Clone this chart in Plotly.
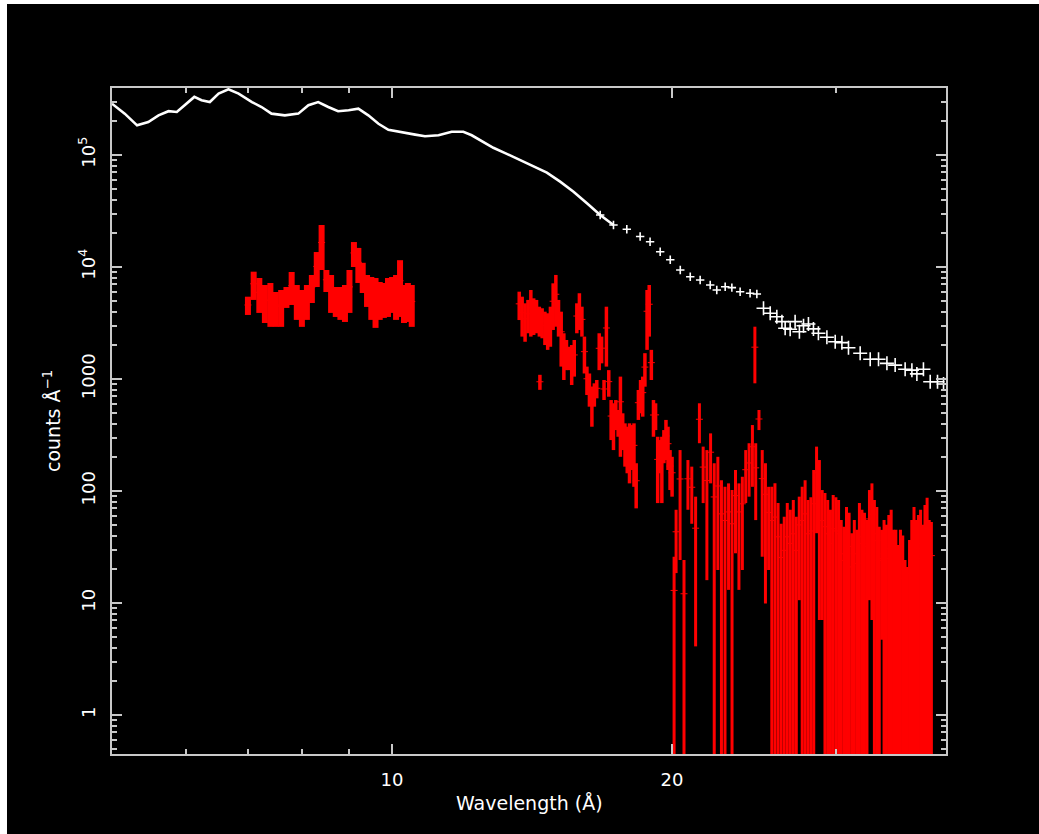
import math
import plotly.graph_objects as go

# ---------------- source spectrum (white crosses) ----------------
src_wave = [5.00, 5.16, 5.32, 5.47, 5.61, 5.75, 5.87, 5.99, 6.13, 6.24,
            6.37, 6.51, 6.67, 6.84, 7.07, 7.24, 7.42, 7.67, 7.93, 8.13,
            8.33, 8.54, 8.75, 8.98, 9.20, 9.43, 9.67, 9.91, 10.24, 10.59,
            10.85, 11.22, 11.59, 11.93, 12.18, 12.49, 12.85, 13.23, 13.67, 14.19,
            14.67, 15.16, 15.67, 16.20, 16.74, 17.30, 17.88, 18.48, 18.94, 19.42,
            19.91, 20.41, 20.92, 21.44, 21.98, 22.34, 22.81, 23.19, 23.67, 24.26,
            24.67, 25.08, 25.50, 25.92, 26.25, 26.46, 26.79, 27.12, 27.41, 27.69,
            28.03, 28.38, 28.73, 29.34, 29.95, 30.45, 30.95, 31.86, 32.66, 33.34,
            34.04, 34.74, 35.61, 36.21, 36.66, 37.26, 37.89, 38.58, 39.16]
src_counts = [2.87e5, 2.34e5, 1.84e5, 1.97e5, 2.26e5, 2.46e5, 2.42e5, 2.78e5, 3.30e5, 3.08e5,
              2.97e5, 3.53e5, 3.86e5, 3.53e5, 2.97e5, 2.68e5, 2.34e5, 2.26e5, 2.34e5, 2.78e5,
              2.97e5, 2.68e5, 2.46e5, 2.51e5, 2.59e5, 2.26e5, 1.90e5, 1.68e5, 1.61e5, 1.52e5,
              1.47e5, 1.50e5, 1.61e5, 1.61e5, 1.50e5, 1.33e5, 1.16e5, 1.04e5, 9.15e4, 7.86e4,
              6.95e4, 5.78e4, 4.70e4, 3.70e4, 2.91e4, 2.37e4, 2.17e4, 1.87e4, 1.68e4, 1.37e4,
              1.16e4, 9400, 8190, 7650, 6910, 6230, 6670, 6540, 6020, 5820,
              5740, 4280, 3860, 3600, 3250, 2840, 2780, 3250, 2640, 2990,
              3100, 2800, 2560, 2360, 2150, 2110, 1900, 1700, 1500, 1500,
              1380, 1330, 1220, 1200, 1110, 1220, 946, 946, 903]

# ---------------- extracted spectrum (red error bars) ----------------
# each bin: upper and lower end of its error bar, counts per Angstrom
# (a lower end of 0 means the bar runs off the bottom of the log axis)
band1_wave = [7.0, 7.1, 7.2, 7.3, 7.4, 7.5, 7.6, 7.7, 7.8, 7.9,
              8.0, 8.1, 8.2, 8.3, 8.4, 8.5, 8.6, 8.7, 8.8, 8.9,
              9.0, 9.1, 9.2, 9.3, 9.4, 9.5, 9.6, 9.7, 9.8, 9.9,
              10.0, 10.1, 10.2, 10.3, 10.4, 10.5]
band1_hi = [5430, 9080, 7980, 6910, 7200, 5980, 6230, 6630, 9020, 6910,
            6230, 6910, 8480, 13600, 23700, 9400, 8480, 6630, 6630, 6910,
            9400, 16700, 14800, 10900, 8480, 8140, 7980, 7350, 7200, 7980,
            8140, 8480, 11500, 6910, 7200, 6910]
band1_lo = [3730, 5080, 3890, 3160, 2920, 2920, 2920, 4310, 4580, 3370,
            2920, 3370, 4770, 6630, 9400, 5980, 3890, 3580, 3370, 3230,
            3890, 10000, 7200, 5860, 4400, 3370, 2860, 3370, 3510, 3580,
            3890, 3370, 3580, 3160, 3230, 2920]

band2_wave = [13.7, 13.8, 13.9, 14.0, 14.1, 14.2, 14.3, 14.4, 14.42, 14.5,
              14.6, 14.7, 14.8, 14.9, 15.0, 15.1, 15.2, 15.3, 15.4, 15.5,
              15.6, 15.7, 15.8, 15.9, 16.0, 16.1, 16.2, 16.3, 16.4, 16.5,
              16.6, 16.7, 16.8, 16.9, 17.0, 17.1, 17.2, 17.3, 17.4, 17.5,
              17.6, 17.7, 17.8, 17.9, 18.0, 18.1, 18.2, 18.3, 18.4, 18.5,
              18.6, 18.7, 18.8, 18.9, 19.0, 19.1, 19.2, 19.3, 19.4, 19.5,
              19.6, 19.7, 19.8, 19.9, 20.0]
band2_hi = [6020, 5430, 4740, 5080, 6230, 5250, 5080, 4420, 1090, 4280,
            3990, 3860, 4420, 7150, 8490, 5080, 3990, 2560, 2230, 1940,
            2010, 2230, 4740, 5830, 4420, 2390, 1290, 1120, 854, 915,
            980, 2560, 2390, 980, 4420, 1200, 649, 607, 649, 529,
            1050, 494, 402, 375, 402, 388, 402, 177, 798, 980,
            1050, 1700, 6230, 6910, 1820, 649, 607, 305, 285, 305,
            350, 431, 375, 232, 202]
band2_lo = [3360, 2390, 2150, 2560, 2390, 2470, 2560, 2390, 800, 2310,
            2010, 1820, 1940, 2740, 2930, 2390, 1290, 980, 1200, 1200,
            884, 1050, 2560, 2740, 2390, 1120, 720, 566, 375, 566,
            672, 1200, 1380, 649, 1290, 695, 285, 232, 350, 305,
            202, 232, 165, 144, 117, 154, 109, 70, 431, 494,
            461, 854, 1820, 2390, 980, 305, 350, 78, 144, 78,
            177, 189, 154, 102, 89]

band3_wave = [20.1, 20.2, 20.4, 20.6, 20.8, 21.0, 21.2, 21.4, 21.6, 21.8,
              22.0, 22.2, 22.4, 22.6, 22.8, 23.0, 23.2, 23.4, 23.6, 23.8,
              24.0, 24.2, 24.4, 24.55, 24.6, 24.8, 25.0, 25.2, 25.4, 25.6,
              25.8, 26.0, 26.2, 26.4, 26.6, 26.8, 27.0, 27.2, 27.4, 27.6,
              27.8, 28.0, 28.2, 28.4, 28.6, 28.8, 29.0, 29.2, 29.4, 29.6,
              29.8, 30.0, 30.2, 30.4, 30.6, 30.8, 31.0, 31.2, 31.4, 31.6,
              31.8, 32.0, 32.2, 32.4, 32.6, 32.8, 33.0, 33.2, 33.4, 33.6,
              33.8, 34.0, 34.2, 34.4, 34.6, 34.8, 35.0, 35.2, 35.4, 35.6,
              35.8, 36.0, 36.2, 36.4, 36.6, 36.8, 37.0, 37.2, 37.4, 37.6,
              37.8, 38.0]
band3_hi = [25.9, 68, 232, 24.2, 189, 165, 89, 607, 249, 232,
            327, 177, 202, 125, 109, 117, 102, 154, 117, 134,
            232, 267, 388, 2930, 267, 529, 232, 177, 109, 109,
            117, 78, 51, 59, 78, 68, 83, 59, 89, 109,
            125, 83, 88, 154, 249, 189, 102, 96, 83, 68,
            92, 88, 83, 55, 48, 72, 64, 42, 55, 45,
            78, 68, 64, 55, 102, 117, 83, 72, 48, 45,
            55, 50, 61, 68, 45, 45, 33, 45, 40, 24.2,
            21, 36.5, 55, 72, 55, 61, 68, 50, 75, 87,
            55, 53]
band3_lo = [0, 18.5, 24.2, 0, 68, 51, 4.1, 267, 78, 16,
            117, 0, 19.7, 0, 0, 13.1, 0, 27.8, 13.1, 19.7,
            78, 89, 109, 915, 55, 350, 25.9, 9.9, 19.7, 0,
            0, 0, 0, 0, 0, 0, 0, 0, 10.6, 0,
            0, 0, 0, 0, 42, 7.05, 7.05, 0, 0, 0,
            0, 0, 0, 0, 0, 0, 0, 0, 0, 0,
            0, 0, 0, 0, 10.6, 7.05, 0, 0, 0, 4.7,
            0, 0, 0, 0, 0, 0, 0, 0, 0, 0,
            0, 0, 0, 0, 0, 0, 0, 0, 0, 0,
            0, 0]

# axis labelling
x_tick_vals = [10, 20]
x_tick_text = ["10", "20"]
x_minor_vals = [6, 7, 8, 9, 30]
y_tick_vals = [1, 10, 100, 1000, 1e4, 1e5]
y_tick_text = ["1", "10", "100", "1000", "10<sup>4</sup>", "10<sup>5</sup>"]

WHITE = "#ffffff"
RED = "#ff0000"
FRAME = "#c8c8c8"
FONT = "DejaVu Sans"

fig = go.Figure()

# source spectrum: dense short-wavelength part reads as a continuous line,
# longer wavelengths as individual crosses
line_idx = [i for i, w in enumerate(src_wave) if w <= 17.4]
mid_idx = [i for i, w in enumerate(src_wave) if 16.7 <= w < 25.0]
far_idx = [i for i, w in enumerate(src_wave) if w >= 25.0]

fig.add_trace(go.Scatter(
    x=[src_wave[i] for i in line_idx], y=[src_counts[i] for i in line_idx],
    mode="lines", line=dict(color=WHITE, width=2.6), hoverinfo="skip",
    showlegend=False))
fig.add_trace(go.Scatter(
    x=[src_wave[i] for i in mid_idx], y=[src_counts[i] for i in mid_idx],
    mode="markers",
    marker=dict(symbol="cross-thin", size=6, line=dict(color=WHITE, width=1.6)),
    hoverinfo="skip", showlegend=False))
fig.add_trace(go.Scatter(
    x=[src_wave[i] for i in far_idx], y=[src_counts[i] for i in far_idx],
    mode="markers",
    marker=dict(symbol="cross-thin", size=10, line=dict(color=WHITE, width=1.6)),
    hoverinfo="skip", showlegend=False))


def add_band(wave, hi, lo, thickness):
    centre = [(h + l) / 2.0 for h, l in zip(hi, lo)]
    half = [(h - l) / 2.0 for h, l in zip(hi, lo)]
    fig.add_trace(go.Scatter(
        x=wave, y=centre, mode="markers",
        marker=dict(symbol="line-ew", size=5, color=RED,
                    line=dict(color=RED, width=1)),
        error_y=dict(type="data", array=half, symmetric=True,
                     color=RED, thickness=thickness, width=0),
        hoverinfo="skip", showlegend=False))


add_band(band1_wave, band1_hi, band1_lo, 6)
add_band(band2_wave, band2_hi, band2_lo, 3.5)
add_band(band3_wave, band3_hi, band3_lo, 3)

axis_common = dict(
    showgrid=False, zeroline=False,
    showline=True, linecolor=FRAME, linewidth=2, mirror="allticks",
    ticks="inside", ticklen=10, tickwidth=1.5, tickcolor=FRAME,
    tickfont=dict(family=FONT, size=18, color=WHITE),
)

fig.update_xaxes(
    type="log", range=[math.log10(5.0), math.log10(39.4)],
    tickmode="array", tickvals=x_tick_vals, ticktext=x_tick_text,
    minor=dict(tickmode="array", tickvals=x_minor_vals, ticks="inside",
               ticklen=5, tickwidth=1.5, tickcolor=FRAME, showgrid=False),
    ticklabelstandoff=8,
    **axis_common)

y_minor = [m * 10 ** e for e in range(-1, 6) for m in range(2, 10)]
fig.update_yaxes(
    type="log", range=[-0.348, 5.598],
    tickmode="array", tickvals=y_tick_vals, ticktext=y_tick_text,
    tickangle=-90,
    minor=dict(tickmode="array", tickvals=y_minor, ticks="inside",
               ticklen=5, tickwidth=1.5, tickcolor=FRAME, showgrid=False),
    ticklabelstandoff=8,
    **axis_common)

fig.update_layout(
    width=1039, height=834,
    margin=dict(l=112, r=93, t=88, b=80),
    paper_bgcolor="#000000", plot_bgcolor="#000000",
    font=dict(family=FONT, color=WHITE),
    annotations=[
        dict(text="Wavelength (Å)", xref="paper", yref="paper",
             x=0.5, y=0, xanchor="center", yanchor="top", yshift=-36,
             showarrow=False, font=dict(family=FONT, size=19, color=WHITE)),
        dict(text="counts Å<sup>−1</sup>", xref="paper", yref="paper",
             x=0, y=0.5, xanchor="center", yanchor="middle", xshift=-60,
             textangle=-90, showarrow=False,
             font=dict(family=FONT, size=19, color=WHITE)),
    ],
    shapes=[
        # thin white frame along the top and left edges of the page
        dict(type="rect", xref="paper", yref="paper",
             x0=-0.1343, x1=-0.1259, y0=-0.1202, y1=1.1322,
             fillcolor=WHITE, line=dict(width=0)),
        dict(type="rect", xref="paper", yref="paper",
             x0=-0.1343, x1=1.1116, y0=1.1262, y1=1.1322,
             fillcolor=WHITE, line=dict(width=0)),
    ],
)

fig.write_html("out.html")
